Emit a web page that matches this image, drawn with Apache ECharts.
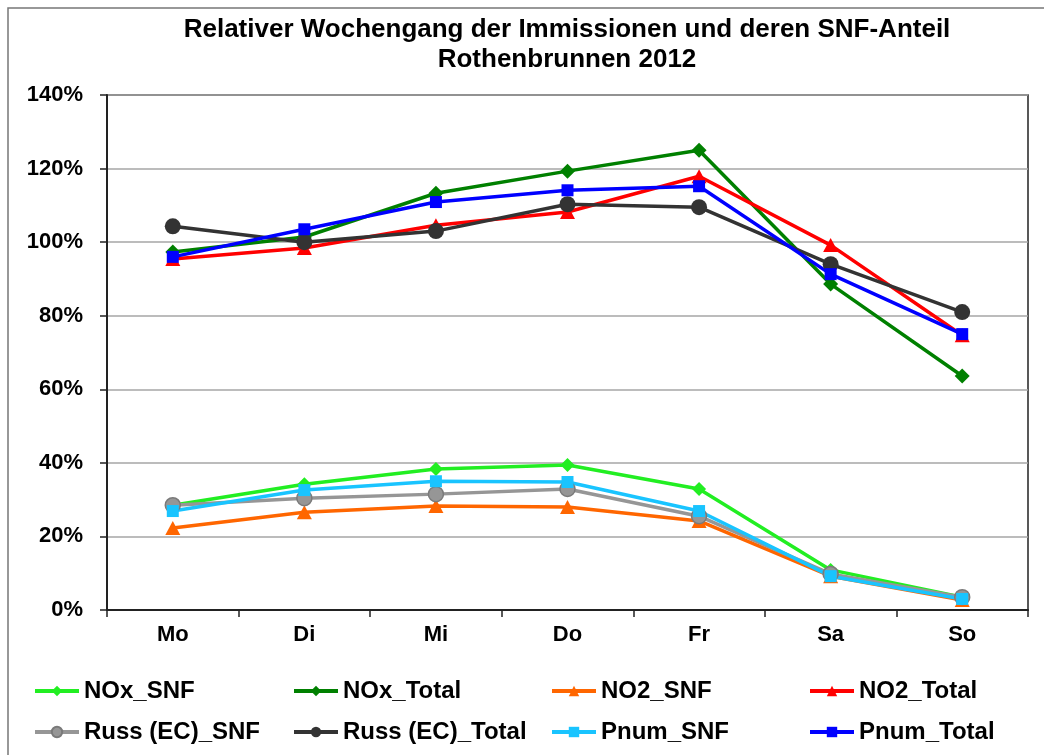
<!DOCTYPE html>
<html>
<head>
<meta charset="utf-8">
<script src="https://cdn.jsdelivr.net/npm/echarts@6/dist/echarts.min.js"></script>
<style>
html,body{margin:0;padding:0;background:#fff;}
#chart{width:1044px;height:755px;}
</style>
</head>
<body>
<div id="chart"></div>
<script>
const categories = ['Mo','Di','Mi','Do','Fr','Sa','So'];
const yTicks = [0,0.2,0.4,0.6,0.8,1.0,1.2,1.4];

const noxSNF    = [0.285,0.342,0.383,0.394,0.329,0.109,0.035];
const noxTotal  = [0.973,1.014,1.133,1.193,1.250,0.886,0.636];
const no2SNF    = [0.223,0.266,0.283,0.280,0.242,0.092,0.027];
const no2Total  = [0.954,0.984,1.046,1.082,1.179,0.992,0.747];
const russSNF   = [0.285,0.304,0.315,0.329,0.255,0.098,0.035];
const russTotal = [1.043,1.000,1.030,1.103,1.095,0.940,0.810];
const pnumSNF   = [0.269,0.326,0.350,0.348,0.269,0.092,0.030];
const pnumTotal = [0.960,1.035,1.109,1.141,1.152,0.913,0.750];

const seriesDefs = [
  {name:'NOx_SNF', data:noxSNF, color:'#22ee22', symbol:'diamond', size:[14,14]},
  {name:'NOx_Total', data:noxTotal, color:'#008000', symbol:'diamond', size:[15,15]},
  {name:'NO2_SNF', data:no2SNF, color:'#ff6600', symbol:'triangle', size:[15,14]},
  {name:'NO2_Total', data:no2Total, color:'#ff0000', symbol:'triangle', size:[15,14]},
  {name:'Russ (EC)_SNF', data:russSNF, color:'#969696', symbol:'circle', size:15, border:'#7a7a7a'},
  {name:'Russ (EC)_Total', data:russTotal, color:'#333333', symbol:'circle', size:16},
  {name:'Pnum_SNF', data:pnumSNF, color:'#19c4ff', symbol:'rect', size:12},
  {name:'Pnum_Total', data:pnumTotal, color:'#0000ff', symbol:'rect', size:12}
];

const legendPos = [
  [33,679],[292,679],[550,679],[808,679],
  [33,720],[292,720],[550,720],[808,720]
];

const chart = echarts.init(document.getElementById('chart'), null, {renderer:'canvas'});
const font = 'Liberation Sans, Arial, sans-serif';

const option = {
  backgroundColor:'#ffffff',
  animation:false,
  title:{
    text:'Relativer Wochengang der Immissionen und deren SNF-Anteil\nRothenbrunnen 2012',
    left:562, top:10, textAlign:'center',
    textStyle:{fontFamily:font, fontWeight:'bold', fontSize:26, color:'#000', lineHeight:30}
  },
  graphic:[{
    type:'rect', shape:{x:8,y:8,width:1100,height:800},
    style:{fill:'none', stroke:'#777777', lineWidth:1.5}, silent:true, z:-1
  }],
  legend: seriesDefs.map((s,i)=>({
    data:[s.name], left:legendPos[i][0], top:legendPos[i][1], padding:0,
    itemWidth:44, itemHeight:13, itemGap:5,
    lineStyle:{width:4},
    textStyle:{fontFamily:font, fontWeight:'bold', fontSize:24, color:'#000'}
  })),
  grid:{left:107, right:16, top:95, bottom:145, show:true, borderColor:'#222', borderWidth:1.5, containLabel:false},
  xAxis:{
    type:'category', data:categories, boundaryGap:true,
    axisLine:{lineStyle:{color:'#222', width:2}},
    axisTick:{show:true, length:7, inside:false, lineStyle:{color:'#222', width:1.5}},
    axisLabel:{fontFamily:font, fontWeight:'bold', fontSize:22, color:'#000', margin:14},
    splitLine:{show:false}
  },
  yAxis:{
    type:'value', min:yTicks[0], max:yTicks[yTicks.length-1], interval:0.2,
    axisLine:{show:true, lineStyle:{color:'#222', width:2}},
    axisTick:{show:true, length:7, lineStyle:{color:'#222', width:1.5}},
    axisLabel:{fontFamily:font, fontWeight:'bold', fontSize:22, color:'#000', margin:24,
      formatter:v=>Math.round(v*100)+'%'},
    splitLine:{show:true, lineStyle:{color:'#a6a6a6', width:1.5}}
  },
  series: seriesDefs.map(s=>({
    name:s.name, type:'line', data:s.data,
    symbol:s.symbol, symbolSize:s.size,
    lineStyle:{color:s.color, width:3.5},
    itemStyle:{color:s.color, borderColor:s.border||s.color, borderWidth:s.border?1.5:0},
    emphasis:{disabled:true}
  }))
};
chart.setOption(option);
</script>
</body>
</html>
